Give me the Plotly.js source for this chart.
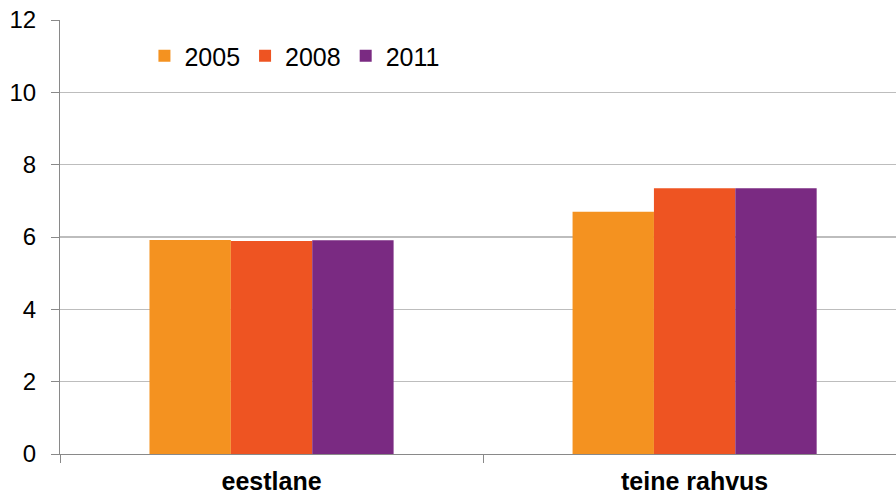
<!DOCTYPE html>
<html>
<head>
<meta charset="utf-8">
<script src="https://cdn.plot.ly/plotly-3.0.1.min.js"></script>
<style>html,body{margin:0;padding:0;background:#fff;overflow:hidden}#chart{width:896px;height:499px}</style>
</head>
<body>
<div id="chart"></div>
<script>
var categories = ["eestlane", "teine rahvus"];
var seriesNames = ["2005", "2008", "2011"];
var values2005 = [5.92, 6.70];
var values2008 = [5.89, 7.35];
var values2011 = [5.91, 7.35];
var yTicks = [0, 2, 4, 6, 8, 10, 12];

var colors = ["#F49220", "#EE5422", "#7A2A82"];
var allValues = [values2005, values2008, values2011];

var traces = allValues.map(function (vals, i) {
  return {
    type: "bar",
    name: seriesNames[i],
    x: categories,
    y: vals,
    marker: { color: colors[i], line: { width: 0 } },
    hoverinfo: "x+y+name"
  };
});

var font = "Liberation Sans, Arial, sans-serif";
var layout = {
  width: 896,
  height: 499,
  margin: { l: 60, r: 0, t: 20, b: 45, pad: 0 },
  paper_bgcolor: "#ffffff",
  plot_bgcolor: "#ffffff",
  barmode: "group",
  bargap: 0.423,
  bargroupgap: 0,
  font: { family: font, color: "#000000" },
  showlegend: true,
  legend: {
    orientation: "h",
    x: 0.101,
    y: 0.917,
    xanchor: "left",
    yanchor: "middle",
    font: { size: 25, family: font, color: "#000" },
    bgcolor: "rgba(0,0,0,0)",
    itemwidth: 30,
    traceorder: "normal"
  },
  xaxis: {
    type: "category",
    range: [-0.5, 1.476],
    showline: true,
    linecolor: "#898989",
    linewidth: 1,
    ticks: "outside",
    tickson: "boundaries",
    ticklen: 8,
    tickcolor: "#898989",
    tickwidth: 1,
    showgrid: false,
    zeroline: false,
    tickfont: { size: 25, family: font, color: "#000", weight: "bold" },
    ticklabelstandoff: 5
  },
  yaxis: {
    range: [0, 12],
    tickvals: yTicks,
    ticktext: yTicks.map(String),
    showline: true,
    linecolor: "#898989",
    linewidth: 1,
    ticks: "outside",
    ticklen: 8,
    tickcolor: "#898989",
    tickwidth: 1,
    showgrid: true,
    gridcolor: "#BDBDBD",
    gridwidth: 1.3,
    zeroline: false,
    tickfont: { size: 24, family: font, color: "#000" },
    ticklabelstandoff: 10
  }
};

Plotly.newPlot("chart", traces, layout, { displayModeBar: false, staticPlot: true });
</script>
</body>
</html>
